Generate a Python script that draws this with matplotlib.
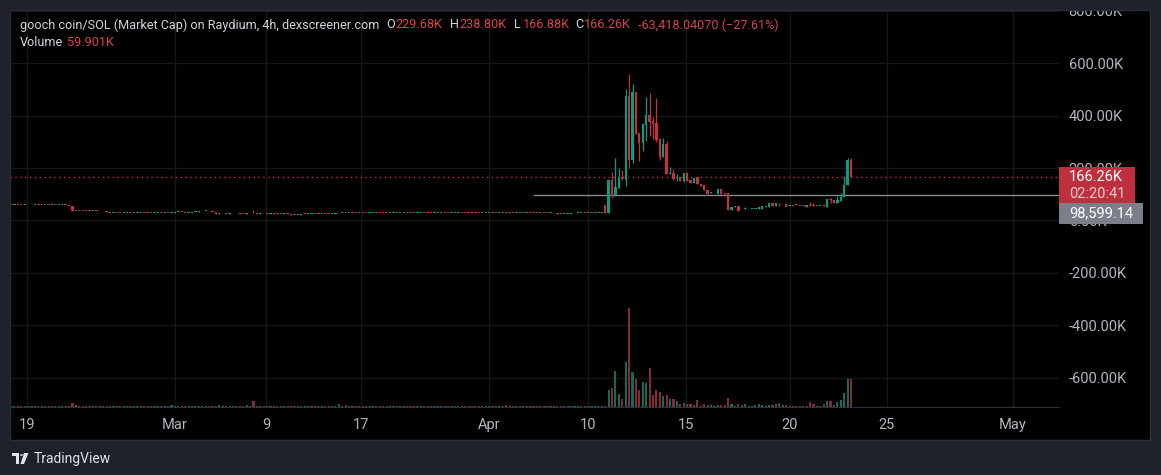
import numpy as np
import matplotlib.pyplot as plt
from matplotlib.patches import Rectangle, Polygon, Circle

plt.rcParams['font.family'] = ['Roboto', 'DejaVu Sans']

# market cap in K, 4h bars (quiet period before the pump: closes only)
flat_close = [
    59, 59.5, 59, 58.5, 59, 57.5, 58, 59.5, 59, 58, 58.5, 58, 59, 58.5, 59, 59, 58.5, 55,
    37,
    38, 36.5, 36, 35.5, 35, 35.5, 35, 34.5, 35,
    31, 30, 30.5, 30, 29.5, 30, 30, 29, 29.5, 30, 30.5, 30, 29.5, 29, 29.5, 30, 29.5, 30,
    29.5, 30, 31, 33, 31, 30, 30.5, 31, 32,
    34.5, 35, 35, 34.5,
    31, 26,
    27, 27, 26.5, 27, 27.5, 27, 26.5, 26, 27, 27.5, 27, 26.5, 27, 27, 26.5, 27, 26.5, 26,
    26.5, 27, 26,
    21.5, 21, 21.5,
    25, 26.5, 27, 26, 25, 26, 26.5, 26, 25.5, 26, 27,
    28.5, 29, 28.5, 29, 28.5,
    28, 28.5, 28, 27.5, 28, 28.5, 29, 28.5, 28, 27.5, 28, 28.5, 28, 29, 29.5, 29, 28.5, 28,
    28.5, 29, 28.5, 28, 27.5, 28, 28.5, 29, 28.5, 28, 28.5, 29, 29.5, 29, 28.5, 28, 28.5, 28,
    27.5, 28, 28.5, 29, 28.5, 28, 28.5, 29, 28.5, 28, 27.5, 28, 28.5, 29, 29.5, 29, 28.5, 28,
    28.5, 28, 27.5, 28, 27,
    24.5, 24, 24.5, 25,
    27, 28, 28.5, 29, 28, 27.5, 28, 29, 29.5, 30, 30,
]
flat_wicks = [(71, 39.0), (145, 31.0), (96, 30.5)]  # (bar, high)
flat_vol = [
    2.8, 3.0, 2.6, 2.8, 3.0, 2.7, 2.9, 2.8, 2.6, 3.0, 2.8, 2.7, 2.9, 2.8, 3.0, 2.7, 2.8, 2.9, 8.0, 3.2, 2.8, 2.7, 2.9, 2.8, 2.6,
    2.8, 3.0, 2.7, 2.9, 2.8, 2.6, 2.8, 3.0, 2.7, 2.9, 2.8, 2.7, 2.9, 2.8, 3.0, 2.6, 2.8, 2.9, 2.7, 2.8, 3.0, 2.8, 3.4, 2.9, 2.8,
    2.7, 2.9, 2.8, 3.0, 2.6, 2.8, 2.9, 2.7, 2.8, 3.0, 2.8, 3.2, 2.9, 2.8, 2.7, 2.9, 2.8, 3.0, 2.6, 3.5, 2.8, 12.5, 3.1, 2.8, 2.7,
    2.9, 2.8, 3.0, 2.6, 2.8, 2.9, 2.7, 2.8, 3.0, 2.8, 2.7, 2.9, 2.8, 3.0, 2.6, 2.8, 2.9, 2.7, 2.8, 3.0, 2.8, 5.5, 2.9, 4.2, 2.8,
    2.7, 2.9, 2.8, 3.0, 2.6, 2.8, 2.9, 2.7, 2.8, 3.0, 2.8, 2.7, 2.9, 2.8, 3.0, 2.6, 2.8, 2.9, 2.7, 2.8, 3.0, 2.8, 2.7, 2.9, 2.8,
    3.0, 2.6, 2.8, 2.9, 2.7, 2.8, 3.0, 2.8, 2.7, 2.9, 2.8, 3.0, 2.6, 2.8, 2.9, 2.7, 2.8, 3.0, 2.8, 2.7, 4.8, 2.9, 2.8, 3.0, 2.6,
    2.8, 2.9, 2.7, 2.8, 3.0, 2.8, 2.7, 2.9, 2.8, 3.0, 2.6, 2.8, 2.9, 2.7, 2.8, 3.0, 2.8, 2.7, 2.9, 2.8, 3.0, 2.6, 2.8, 2.9, 3.0,
]

# pump and after: full OHLC
pump_open = [30, 155, 97, 123, 165, 155, 475, 231, 490, 333, 297, 365, 403, 380, 372, 311, 242, 292,
             178, 181, 161, 167, 151, 180, 154, 144, 165, 138, 135, 115, 106, 107, 101, 120, 104, 104,
             40, 51, 55, 42, 45, 48, 43, 44, 45, 44, 53, 53, 67, 55, 66, 65, 63, 57, 58, 59, 57, 56,
             53, 57, 57, 55, 55, 57, 53, 82, 78, 66, 76, 89, 135, 229.68]
pump_high = [155, 185, 239, 202, 193, 502, 559, 521, 490, 333, 368, 471, 487, 395, 468, 315, 315, 303,
             204, 197, 177, 167, 180, 184, 154, 165, 165, 138, 135, 115, 108, 109, 120, 120, 106, 104,
             51, 54, 55, 44, 52, 48, 44, 45, 50, 55, 54, 65, 67, 67, 67, 66, 63, 58, 58, 59, 57, 56,
             58, 72, 68, 56, 56, 62, 81, 87, 78, 93, 106, 170, 240, 238.80]
pump_low = [30, 87, 93, 123, 155, 133, 202, 218, 330, 227, 265, 303, 324, 311, 300, 231, 242, 179,
            176, 155, 152, 151, 148, 152, 144, 144, 138, 132, 115, 101, 106, 107, 101, 101, 103, 40,
            40, 51, 36, 42, 45, 46, 43, 44, 45, 44, 53, 53, 55, 55, 55, 65, 51, 57, 57, 58, 56, 55,
            53, 56, 56, 55, 55, 56, 53, 68, 66, 66, 76, 89, 135, 166.88]
pump_close = [155, 93, 129, 163, 158, 475, 231, 490, 330, 297, 368, 403, 377, 368, 308, 242, 292, 179,
              182, 158, 167, 151, 180, 152, 144, 161, 138, 132, 115, 101, 108, 109, 120, 101, 103, 40,
              51, 53, 36, 44, 49, 46, 44, 45, 50, 55, 54, 65, 55, 67, 65, 66, 51, 58, 57, 58, 56, 55,
              58, 56, 56, 56, 56, 56, 81, 80, 66, 78, 89, 135, 231, 166.26]
pump_vol = [36.6, 40.9, 76.8, 28.2, 17.6, 95.9, 210.2, 74.7, 59.9, 36.6, 53.6, 51.4, 83.2, 26.0, 36.6,
            32.4, 23.9, 26.0, 17.6, 17.6, 13.3, 7.0, 9.1, 7.0, 7.0, 4.9, 15.5, 2.8, 7.0, 4.9, 4.9, 2.8,
            4.9, 4.9, 4.9, 19.7, 7.0, 2.8, 7.0, 4.9, 7.0, 2.8, 2.8, 4.9, 7.0, 4.9, 2.8, 4.9, 4.9, 7.0,
            9.1, 4.9, 4.9, 2.8, 2.8, 2.8, 2.8, 2.8, 2.8, 11.2, 7.0, 2.8, 2.8, 7.0, 13.3, 13.3, 4.9, 11.2,
            15.5, 30.3, 59.9, 59.901]

last_price = 166.26
ref_price = 98.59914
ref_start_bar = 153
price_ticks = [-600, -400, -200, 0, 200, 400, 600, 800]
date_ticks = [4.7, 48.0, 74.7, 102.5, 140.0, 169.0, 197.7, 228.1, 256.5, 293.4]
date_labels = ['19', 'Mar', '9', '17', 'Apr', '10', '15', '20', '25', 'May']

# build bar arrays
c = np.array(flat_close + pump_close, dtype=float)
o = np.concatenate([[flat_close[0]], flat_close[:-1], pump_open]).astype(float)
o[len(flat_close) - 1] = 59  # red step before the first drop
h = np.concatenate([np.maximum(o[:len(flat_close)], flat_close), pump_high]).astype(float)
l = np.concatenate([np.minimum(o[:len(flat_close)], flat_close), pump_low]).astype(float)
for b, hv in flat_wicks:
    h[b] = hv
vol = np.array(flat_vol + pump_vol)
x = np.arange(len(c))

UP, DOWN = '#0b9b80', '#c52f3e'
VUP, VDOWN = '#13695a', '#872a33'
BG = '#1e212a'
GRAY = '#d1d4dc'
RED_TXT = '#d9404e'
up = c >= o

W, H = 1161, 475
fig = plt.figure(figsize=(W / 100, H / 100), dpi=100, facecolor=BG)

def fx(px):
    return px / W

def fy(py):
    return 1 - py / H

# chart panel
fig.add_artist(Rectangle((fx(10), fy(439.5)), 1140 / W, 430 / H, transform=fig.transFigure,
                         facecolor='black', edgecolor='none', zorder=-1))

ax = fig.add_axes([fx(10), fy(407), (1059 - 10) / W, (407 - 9.5) / H])
ax.set_facecolor('black')
ax.set_xlim(-0.3, 306.9)
ax.set_ylim(-711.9, 805.4)
ax.set_axisbelow(True)
ax.grid(color='#171717', lw=1)

# volume overlay
ax2 = ax.twinx()
ax2.bar(x, vol, width=0.62, color=np.where(up, VUP, VDOWN), zorder=1)
ax2.set_ylim(0, 841.5)
ax2.axis('off')

# candles
cols = np.where(up, UP, DOWN)
ax.vlines(x, l, h, colors=cols, lw=0.9, zorder=3)
ax.bar(x, np.maximum(np.abs(c - o), 3.5), bottom=np.minimum(o, c), width=0.68, color=cols, zorder=4)

ax.axhline(last_price, color=DOWN, lw=1, ls=(0, (1, 2.5)), zorder=2)
ax.hlines(ref_price, ref_start_bar, 306.9, color='#868993', lw=1, zorder=2)

for s in ['top', 'left', 'right']:
    ax.spines[s].set_visible(False)
ax.spines['bottom'].set_color('#2e323c')

ax.yaxis.tick_right()
ax.set_yticks(price_ticks)
ax.set_yticklabels([f'{v:.2f}K' for v in price_ticks])
ax.tick_params(axis='y', length=0, pad=7, labelsize=10.5, labelcolor='#b2b5be')
ax.set_xticks(date_ticks)
ax.set_xticklabels(date_labels)
ax.tick_params(axis='x', length=0, pad=8, labelsize=10.5, labelcolor='#b2b5be')

# mask above panel (clips 800K label) and panel border
fig.add_artist(Rectangle((0, fy(9.5)), 1, 9.5 / H, transform=fig.transFigure,
                         facecolor=BG, edgecolor='none', zorder=5))
fig.add_artist(Rectangle((fx(10), fy(439.5)), 1140 / W, 430 / H, transform=fig.transFigure,
                         facecolor='none', edgecolor='#2a2e39', lw=1, zorder=6))

# price labels on the scale
fig.add_artist(Rectangle((fx(1059), fy(203.3)), 76 / W, 36.3 / H, transform=fig.transFigure,
                         facecolor='#bf2f3d', edgecolor='none', zorder=7))
fig.add_artist(Rectangle((fx(1059), fy(223.7)), 84 / W, 20.4 / H, transform=fig.transFigure,
                         facecolor='#7b7f8a', edgecolor='none', zorder=7))
fig.text(fx(1069), fy(177), f'{last_price:.2f}K', color='white', fontsize=10.5, va='center', zorder=8)
fig.text(fx(1069), fy(193.5), '02:20:41', color='#f2c9ce', fontsize=10.5, va='center', zorder=8)
fig.text(fx(1069), fy(213.5), f'{ref_price * 1000:,.2f}', color='white', fontsize=10.5, va='center', zorder=8)

# header legend
ty = fy(25)
fs = 9.05
fig.text(fx(20), ty, 'gooch coin/SOL (Market Cap) on Raydium, 4h, dexscreener.com', color=GRAY,
         fontsize=fs, va='center')
for px, lab, val in [(386, 'O', o[-1]), (450, 'H', h[-1]), (514, 'L', l[-1]), (575, 'C', c[-1])]:
    fig.text(fx(px), ty, lab, color=GRAY, fontsize=fs, va='center')
    fig.text(fx(px + 9), ty, f'{val:.2f}K', color=RED_TXT, fontsize=fs, va='center')
fig.text(fx(638), ty, '-63,418.04070 (\u221227.61%)', color=RED_TXT, fontsize=fs, va='center')
fig.text(fx(20), fy(43), 'Volume', color=GRAY, fontsize=fs, va='center')
fig.text(fx(67), fy(43), f'{pump_vol[-1]:.3f}K', color=RED_TXT, fontsize=fs, va='center')

# TradingView footer
tv = dict(transform=fig.transFigure, facecolor='#e0e3eb', edgecolor='none')
fig.add_artist(Rectangle((fx(12), fy(456)), 7 / W, 3 / H, **tv))
fig.add_artist(Rectangle((fx(15.5), fy(464)), 3.5 / W, 11 / H, **tv))
fig.add_artist(Circle((fx(21.5), fy(455)), 1.7 / W, **tv))
fig.add_artist(Polygon([(fx(24), fy(453)), (fx(28.5), fy(453)), (fx(24), fy(464)), (fx(20.5), fy(464))], **tv))
fig.text(fx(34), fy(459), 'TradingView', color='#e0e3eb', fontsize=10, va='center')

fig.savefig('out.png', dpi=100, facecolor=BG)
